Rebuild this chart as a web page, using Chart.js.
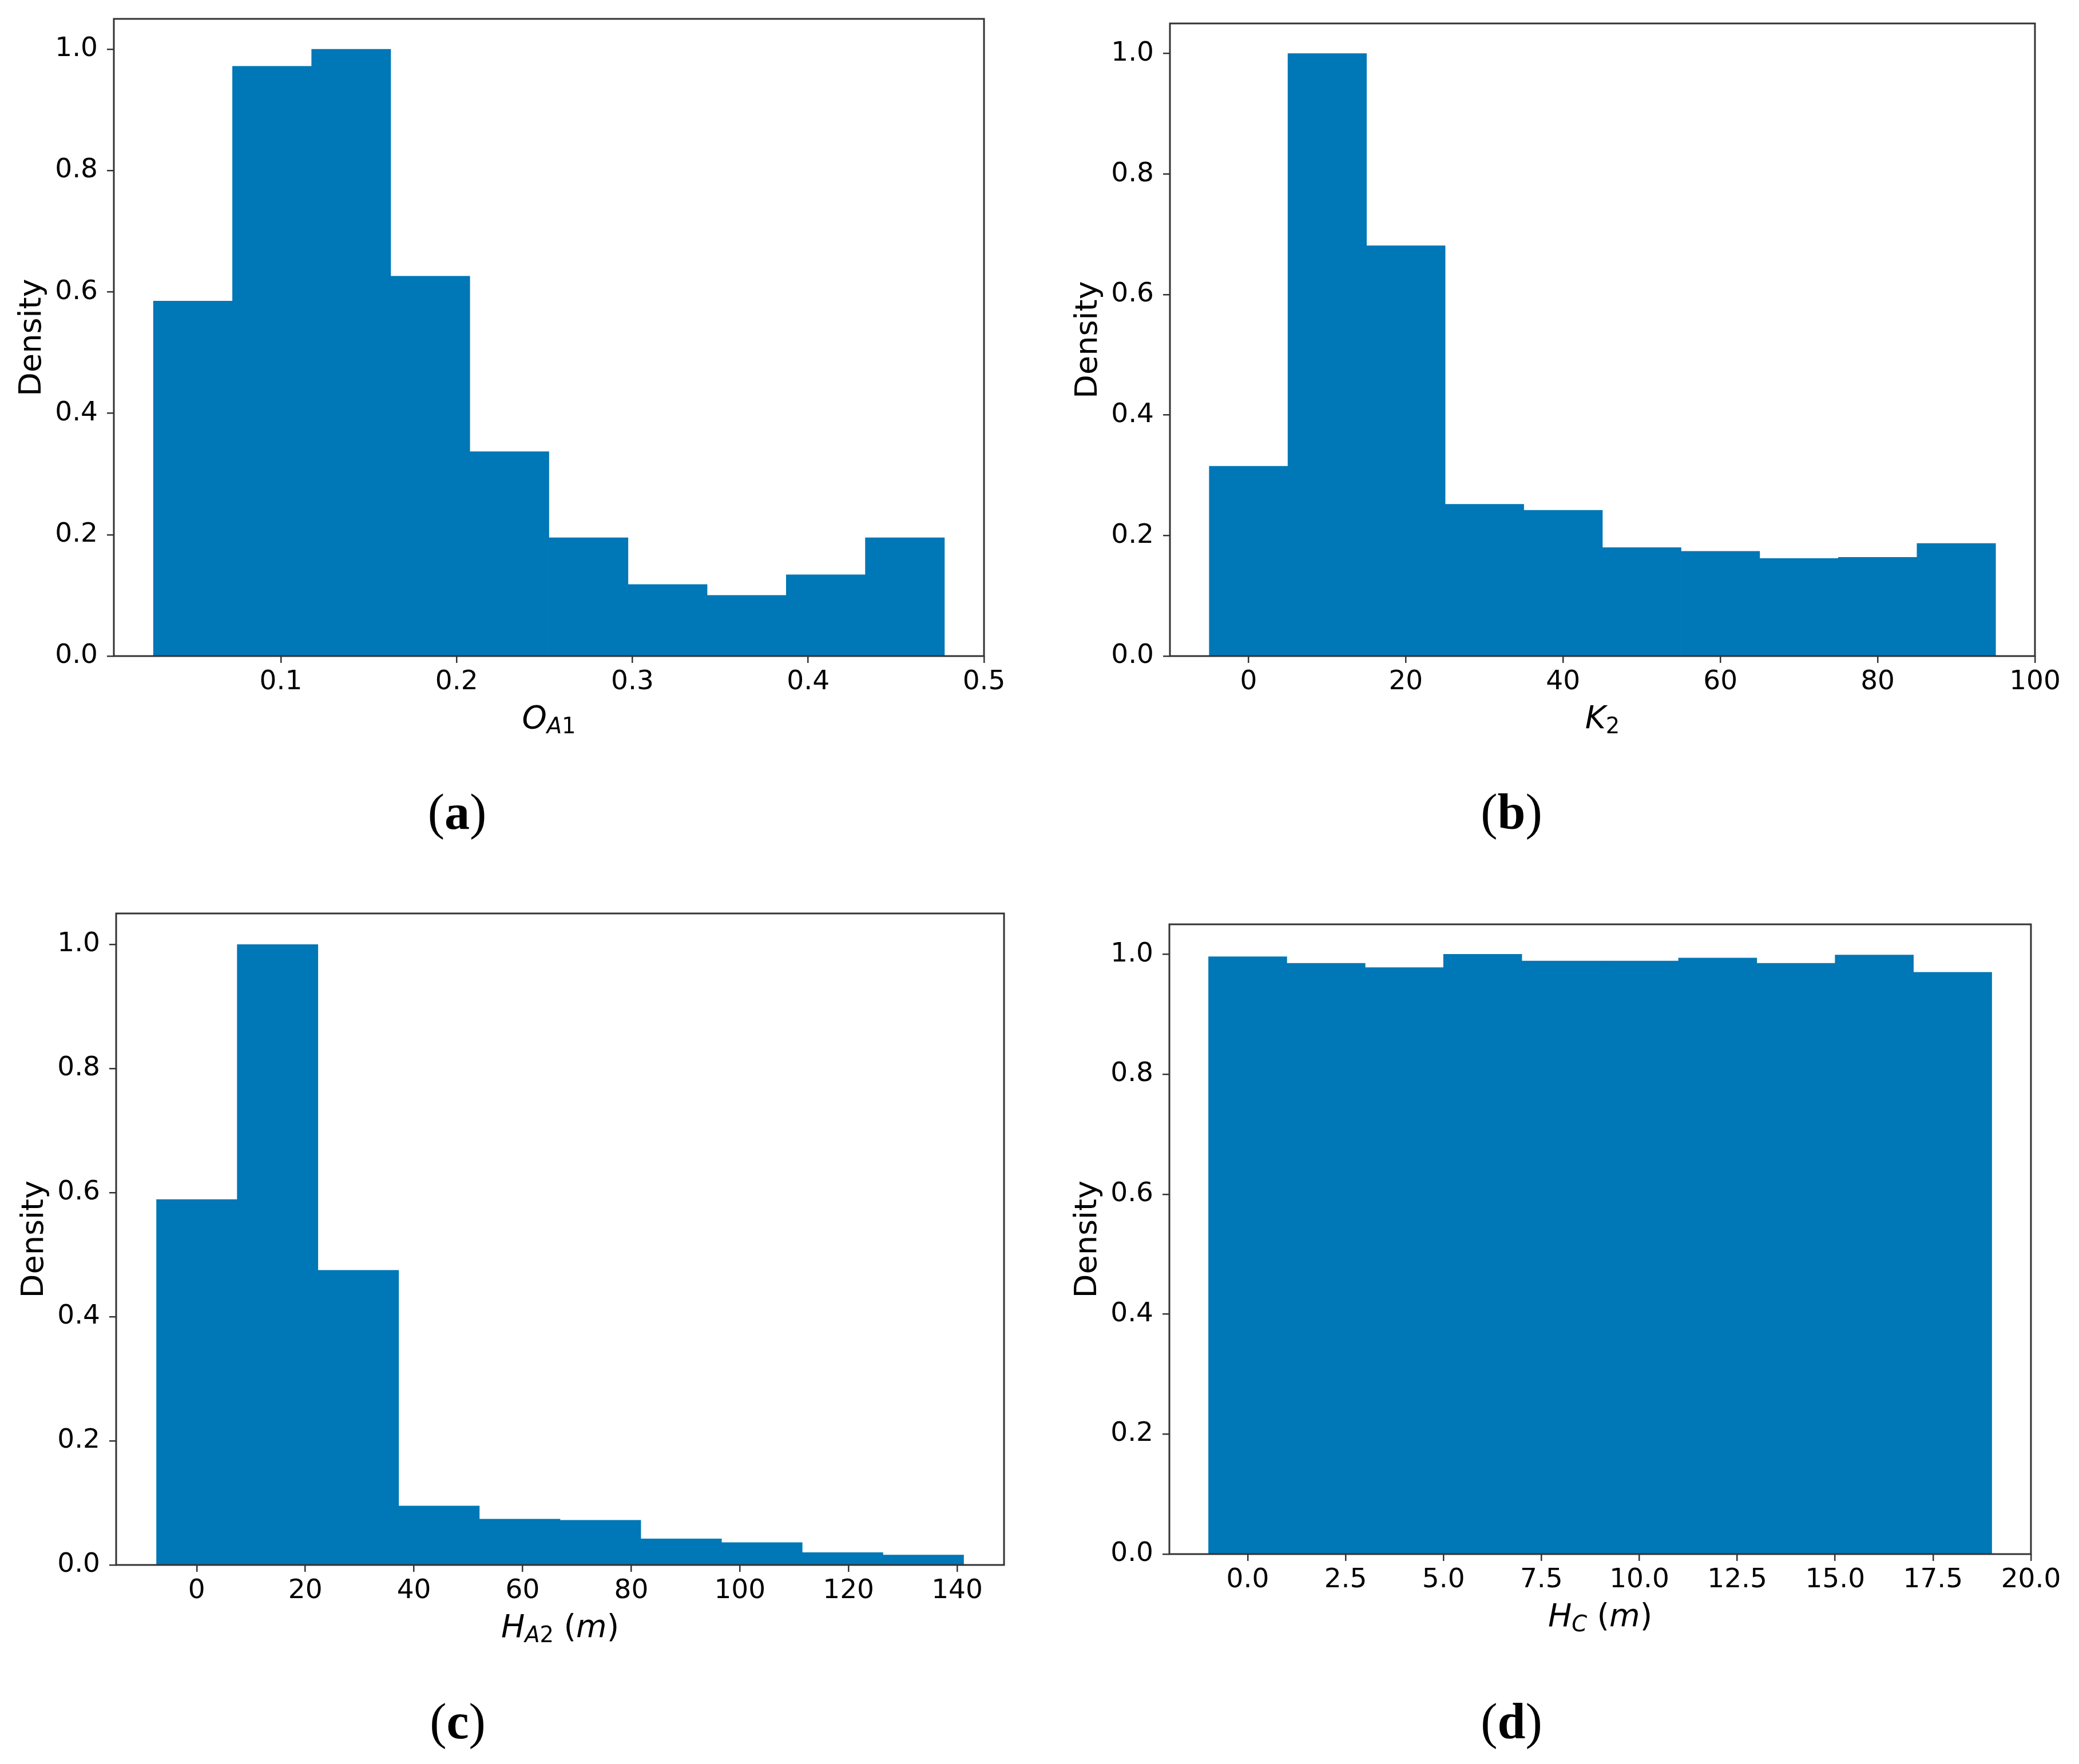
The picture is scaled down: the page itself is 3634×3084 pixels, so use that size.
<!DOCTYPE html>
<html lang="en">
<head>
<meta charset="UTF-8">
<title>Density histograms</title>
<script src="https://cdn.jsdelivr.net/npm/chart.js"></script>
<style>
  html, body { margin: 0; padding: 0; background: #fff; }
  body { width: 3634px; height: 3084px; position: relative; overflow: hidden; }
  canvas { position: absolute; }
  .xlab { position: absolute; font-family: 'DejaVu Sans'; font-size: 55px; line-height: 55px;
          white-space: nowrap; transform: translateX(-50%); color: #000; }
  .xlab i { font-style: italic; }
  .sub { font-size: 70%; position: relative; top: 9px; }
  .cap { position: absolute; font-family: 'Liberation Serif'; font-size: 88px; line-height: 88px;
         font-weight: normal; white-space: nowrap; transform: translateX(-50%); color: #000; }
</style>
</head>
<body>
<script>
// bin edges and densities
const edgesA = [0.0275, 0.0725, 0.1175, 0.1625, 0.2075, 0.2525, 0.2975, 0.3425, 0.3875, 0.4325, 0.4775]
const densA = [0.585, 0.972, 1.0, 0.626, 0.337, 0.195, 0.118, 0.100, 0.134, 0.195]

const edgesB = [-5, 5, 15, 25, 35, 45, 55, 65, 75, 85, 95]
const densB = [0.315, 1.0, 0.681, 0.252, 0.242, 0.180, 0.174, 0.162, 0.164, 0.187]

const edgesC = [-7.4, 7.46, 22.32, 37.18, 52.04, 66.9, 81.76, 96.62, 111.48, 126.34, 141.2]
const densC = [0.589, 1.0, 0.475, 0.095, 0.074, 0.072, 0.042, 0.036, 0.020, 0.016]

const edgesD = [-1, 1, 3, 5, 7, 9, 11, 13, 15, 17, 19]
const densD = [0.996, 0.985, 0.978, 1.0, 0.989, 0.989, 0.994, 0.985, 0.999, 0.970]

const xTicksA = ['0.1', '0.2', '0.3', '0.4', '0.5']
const xTicksB = ['0', '20', '40', '60', '80', '100']
const xTicksC = ['0', '20', '40', '60', '80', '100', '120', '140']
const xTicksD = ['0.0', '2.5', '5.0', '7.5', '10.0', '12.5', '15.0', '17.5', '20.0']
const yTicks = ['0.0', '0.2', '0.4', '0.6', '0.8', '1.0']

const xLabels = [
  '<i>O</i><span class="sub"><i>A</i>1</span>',
  '<i>K</i><span class="sub">2</span>',
  '<i>H</i><span class="sub"><i>A</i>2</span> (<i>m</i>)',
  '<i>H</i><span class="sub"><i>C</i></span> (<i>m</i>)'
]
const captions = ['a', 'b', 'c', 'd']

// layout (page pixels): plot box [left, top, right, bottom] and caption centre
const panels = [
  { box: [199, 33, 1720, 1147], cap: [799, 1450], edges: edgesA, dens: densA, ticks: xTicksA },
  { box: [2045, 41, 3557, 1147], cap: [2642, 1450], edges: edgesB, dens: densB, ticks: xTicksB },
  { box: [203, 1597, 1755, 2736], cap: [800, 3040], edges: edgesC, dens: densC, ticks: xTicksC },
  { box: [2044, 1616, 3550, 2717], cap: [2642, 3040], edges: edgesD, dens: densD, ticks: xTicksD }
]

// top padding must exceed half a y tick label plus its padding, or Chart.js pushes the plot down
const PAD_TOP = 33, PAD_RIGHT = 70, Y_W = 195, X_H = 200
const BAR_COLOR = '#0077b6'
const AXIS_COLOR = '#333'
const tickFont = { family: 'DejaVu Sans', size: 47 }

const framePlugin = {
  id: 'frame',
  afterDatasetsDraw(chart) {
    const { ctx, chartArea: a } = chart
    ctx.save()
    ctx.strokeStyle = AXIS_COLOR
    ctx.lineWidth = 3
    ctx.strokeRect(a.left, a.top, a.right - a.left, a.bottom - a.top)
    ctx.restore()
  }
}

const makePanel = (p, idx) => {
  const [L, T, R, B] = p.box
  const w = Y_W + (R - L) + PAD_RIGHT
  const h = PAD_TOP + (B - T) + X_H
  const cv = document.createElement('canvas')
  cv.width = w
  cv.height = h
  cv.style.left = (L - Y_W) + 'px'
  cv.style.top = (T - PAD_TOP) + 'px'
  cv.style.width = w + 'px'
  cv.style.height = h + 'px'
  document.body.appendChild(cv)

  // matplotlib-style 5% margins around the bin range
  const first = p.edges[0], last = p.edges[p.edges.length - 1]
  const span = last - first
  const points = p.dens.map((d, i) => ({ x: (p.edges[i] + p.edges[i + 1]) / 2, y: d }))

  new Chart(cv, {
    type: 'bar',
    data: {
      datasets: [{
        data: points,
        backgroundColor: BAR_COLOR,
        borderWidth: 0,
        barPercentage: 1,
        categoryPercentage: 1
      }]
    },
    options: {
      responsive: false,
      animation: false,
      devicePixelRatio: 1,
      events: [],
      layout: { padding: { top: PAD_TOP, right: PAD_RIGHT, left: 0, bottom: 0 } },
      plugins: { legend: { display: false }, tooltip: { enabled: false } },
      scales: {
        x: {
          type: 'linear',
          offset: false,
          min: first - 0.05 * span,
          max: last + 0.05 * span,
          afterBuildTicks: s => { s.ticks = p.ticks.map(t => ({ value: parseFloat(t) })) },
          afterFit: s => { s.height = X_H },
          ticks: {
            autoSkip: false, maxRotation: 0, minRotation: 0, padding: 6,
            color: '#000', font: tickFont,
            callback: (v, i) => p.ticks[i]
          },
          grid: { offset: false, drawOnChartArea: false, drawTicks: true, tickLength: 12, color: AXIS_COLOR, lineWidth: 2.5 },
          border: { display: false }
        },
        y: {
          type: 'linear',
          min: 0,
          max: 1.05,
          afterBuildTicks: s => { s.ticks = yTicks.map(t => ({ value: parseFloat(t) })) },
          afterFit: s => {
            s.width = Y_W
            s.paddingTop = 0
            s.paddingBottom = 0
          },
          ticks: {
            autoSkip: false, padding: 16,
            color: '#000', font: tickFont,
            callback: (v, i) => yTicks[i]
          },
          grid: { drawOnChartArea: false, drawTicks: true, tickLength: 12, color: AXIS_COLOR, lineWidth: 2.5 },
          border: { display: false },
          title: {
            display: true, text: 'Density', color: '#000',
            font: { family: 'DejaVu Sans', size: 54 },
            padding: { top: 21, bottom: 0 }
          }
        }
      }
    },
    plugins: [framePlugin]
  })

  const xl = document.createElement('div')
  xl.className = 'xlab'
  xl.innerHTML = xLabels[idx]
  xl.style.left = ((L + R) / 2) + 'px'
  xl.style.top = (B + 126 - 46.5) + 'px'
  document.body.appendChild(xl)

  const cap = document.createElement('div')
  cap.className = 'cap'
  cap.innerHTML = '(<b>' + captions[idx] + '</b>)'
  cap.style.left = p.cap[0] + 'px'
  cap.style.top = (p.cap[1] - 74) + 'px'
  document.body.appendChild(cap)
}

panels.forEach(makePanel)
</script>
</body>
</html>
